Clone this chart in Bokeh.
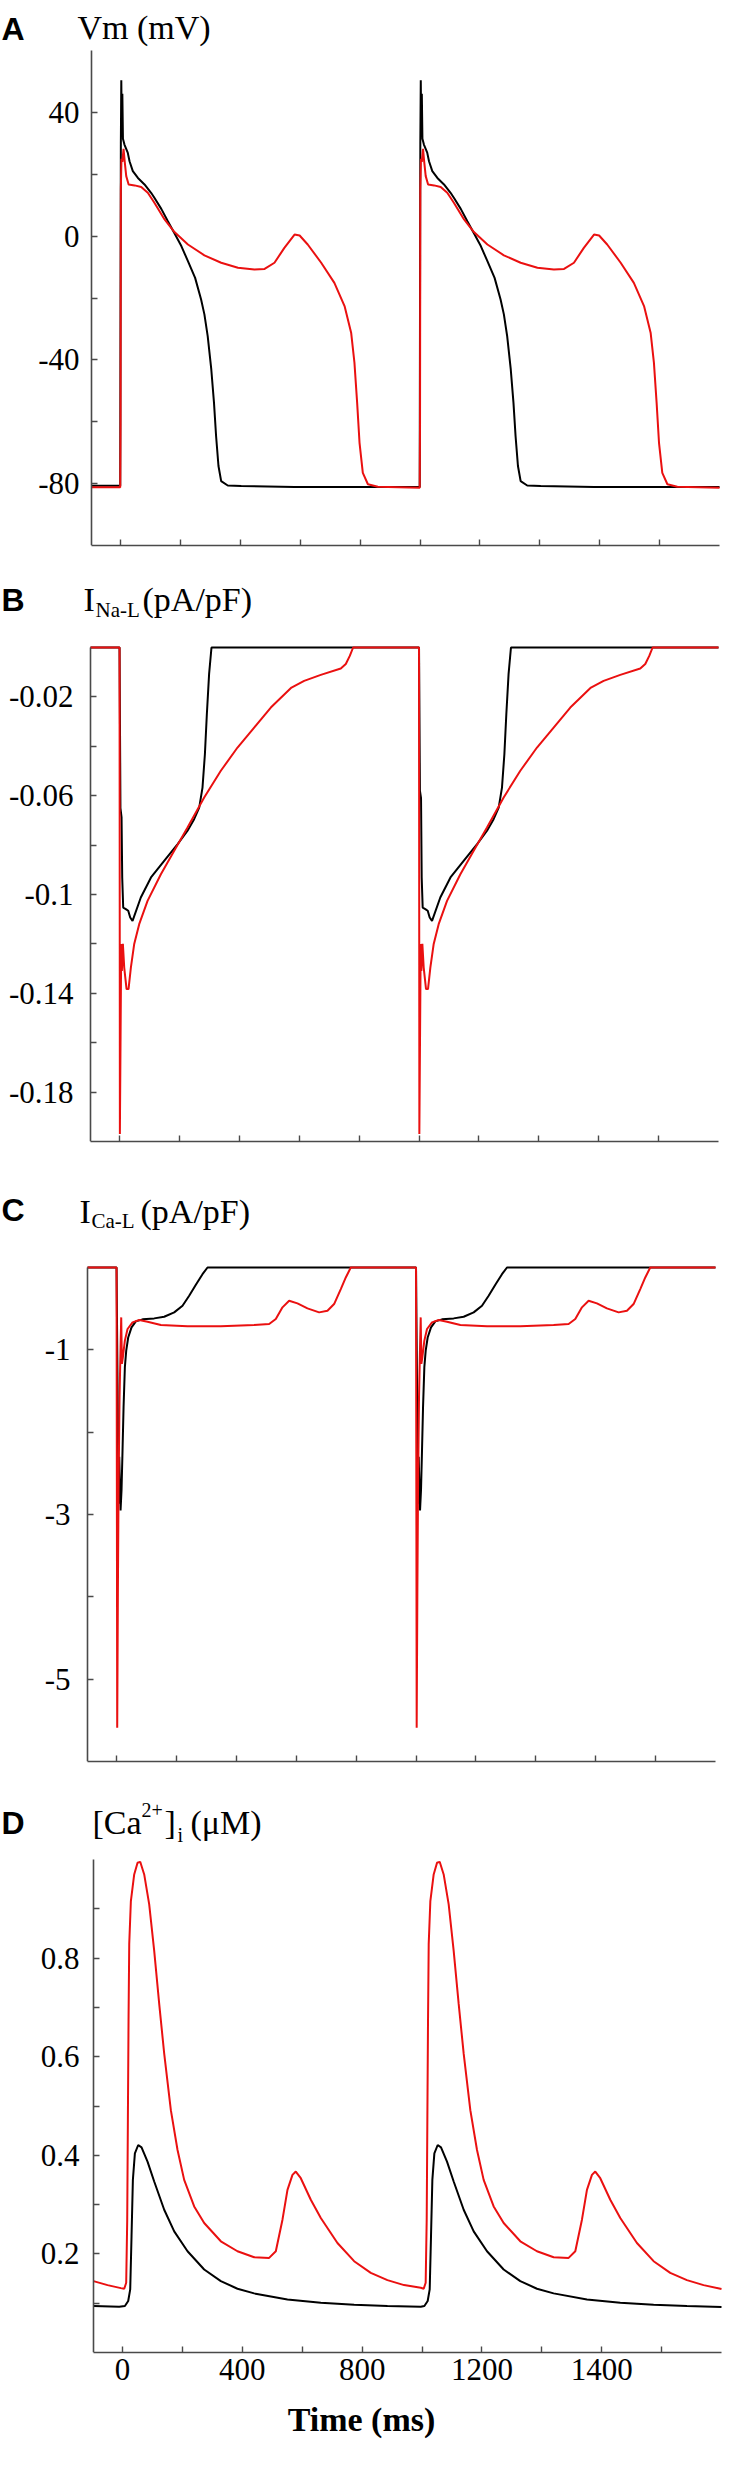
from bokeh.plotting import figure
from bokeh.models import FixedTicker, Range1d
from bokeh.layouts import column
from bokeh.core.properties import value
from bokeh.embed import file_html
from bokeh.resources import INLINE

# ---------------- data ----------------
X_TICKS = [0, 200, 400, 600, 800, 1000, 1200, 1400, 1600, 1800]
X_TICK_LABELS = {0: "0", 400: "400", 800: "800", 1200: "1200", 1600: "1400"}

# Panel A: Vm (mV)
VM_TICKS = [-80, -60, -40, -20, 0, 20, 40]
VM_TICK_LABELS = {-80: "-80", -40: "-40", 0: "0", 40: "40"}
vm_ctrl_t1 = [-97, -1, 0, 1, 2.5, 4, 6, 8, 13, 24, 30, 41, 58, 80, 102, 113, 136, 158, 180, 203,
              225, 249, 269, 280, 291, 303, 312, 319, 327, 336, 358, 403, 581, 870, 999]
vm_ctrl_v1 = [-80.7, -80.7, -20, 30, 50.4, 35, 46, 31.5, 29.6, 27, 24.2, 21, 18.8, 16.7, 14, 12.4, 8.8, 4.8, 0.9, -3.2,
              -8.1, -13.5, -20.5, -25.3, -32.3, -43.1, -53.8, -64.6, -74.3, -79.2, -80.6, -80.8, -81.1, -81.1, -81.1]
vm_ctrl_t2 = [1000, 1001, 1002.5, 1004, 1006, 1008, 1013, 1024, 1030, 1041, 1058, 1080, 1102, 1113, 1136, 1158, 1180,
              1203, 1225, 1249, 1269, 1280, 1291, 1303, 1312, 1319, 1327, 1336, 1358, 1403, 1581, 1870, 2000]
vm_ctrl_v2 = [-20, 30, 50.4, 35, 46, 31.5, 29.6, 27, 24.2, 21, 18.8, 16.7, 14, 12.4, 8.8, 4.8, 0.9,
              -3.2, -8.1, -13.5, -20.5, -25.3, -32.3, -43.1, -53.8, -64.6, -74.3, -79.2, -80.6, -80.8, -81.1, -81.1, -81.1]
vm_drug_t1 = [-97, -1, 0, 1, 3, 6, 10, 14, 19, 27, 47, 69, 91, 113, 147, 180, 225, 280, 336, 392, 447, 481, 514,
              547, 581, 598, 625, 670, 714, 748, 770, 781, 790, 798, 809, 826, 859, 999]
vm_drug_v1 = [-81.2, -81.2, -61, 15, 25, 24, 28.2, 24, 19.4, 16.7, 16.4, 15.9, 14, 10.8, 5.4, 1.3, -2.7, -6.2, -8.6,
              -10.2, -10.8, -10.6, -8.6, -3.8, 0.5, 0.2, -2.7, -8.6, -15.1, -22.6, -31.2, -40.9, -53.8, -66.8, -76.5,
              -80.2, -81, -81.3]
vm_drug_t2 = [1000, 1001, 1003, 1006, 1010, 1014, 1019, 1027, 1047, 1069, 1091, 1113, 1147, 1180, 1225, 1280, 1336,
              1392, 1447, 1481, 1514, 1547, 1581, 1598, 1625, 1670, 1714, 1748, 1770, 1781, 1790, 1798, 1809, 1826,
              1859, 2000]
vm_drug_v2 = [-61, 15, 25, 24, 28.2, 24, 19.4, 16.7, 16.4, 15.9, 14, 10.8, 5.4, 1.3, -2.7, -6.2, -8.6, -10.2, -10.8,
              -10.6, -8.6, -3.8, 0.5, 0.2, -2.7, -8.6, -15.1, -22.6, -31.2, -40.9, -53.8, -66.8, -76.5, -80.2, -81,
              -81.3]

# Panel B: I_Na-L (pA/pF)
NAL_TICKS = [-0.18, -0.16, -0.14, -0.12, -0.1, -0.08, -0.06, -0.04, -0.02]
NAL_TICK_LABELS = {-0.18: "-0.18", -0.14: "-0.14", -0.1: "-0.1", -0.06: "-0.06", -0.02: "-0.02"}
nal_ctrl_t1 = [-97, 0, 3, 6.7, 8.9, 12.2, 21, 29, 35.6, 43.4, 71, 105, 149, 194, 227, 249, 266, 277, 285, 291.5,
               299, 307, 999]
nal_ctrl_v1 = [0, 0, -0.065, -0.0688, -0.0931, -0.1053, -0.1059, -0.1066, -0.1093, -0.1107, -0.1012, -0.0931,
               -0.0864, -0.0796, -0.0742, -0.0695, -0.0648, -0.0567, -0.0432, -0.027, -0.0108, 0, 0]
nal_ctrl_t2 = [1000, 1003, 1006.7, 1008.9, 1012.2, 1021, 1029, 1035.6, 1043.4, 1071, 1105, 1149, 1194, 1227, 1249,
               1266, 1277, 1285, 1291.5, 1299, 1307, 2000]
nal_ctrl_v2 = [0, -0.058, -0.061, -0.0931, -0.1053, -0.1059, -0.1066, -0.1093, -0.1107, -0.1012, -0.0931, -0.0864,
               -0.0796, -0.0742, -0.0695, -0.0648, -0.0567, -0.0432, -0.027, -0.0108, 0, 0]
nal_drug_t1 = [-97, 0, 1.1, 3.3, 5.6, 7.8, 11.1, 15.6, 23.4, 30, 37.8, 49, 65.6, 93.5, 138, 182.5, 227, 282.6, 338.2,
               393.9, 449.5, 505.1, 574.1, 616.4, 672, 738.8, 755.5, 768.8, 780, 999]
nal_drug_v1 = [0, 0, -0.197, -0.159, -0.12, -0.131, -0.12, -0.1296, -0.1383, -0.1383, -0.1296, -0.12, -0.112,
               -0.1026, -0.0918, -0.0823, -0.0729, -0.0607, -0.0499, -0.0405, -0.0324, -0.0243, -0.0162, -0.0135,
               -0.0111, -0.0085, -0.0067, -0.0034, 0, 0]
nal_drug_t2 = [1000, 1001.1, 1003.3, 1005.6, 1007.8, 1011.1, 1015.6, 1023.4, 1030, 1037.8, 1049, 1065.6, 1093.5, 1138,
               1182.5, 1227, 1282.6, 1338.2, 1393.9, 1449.5, 1505.1, 1574.1, 1616.4, 1672, 1738.8, 1755.5, 1768.8,
               1780, 2000]
nal_drug_v2 = [0, -0.197, -0.159, -0.12, -0.131, -0.12, -0.1296, -0.1383, -0.1383, -0.1296, -0.12, -0.112, -0.1026,
               -0.0918, -0.0823, -0.0729, -0.0607, -0.0499, -0.0405, -0.0324, -0.0243, -0.0162, -0.0135, -0.0111,
               -0.0085, -0.0067, -0.0034, 0, 0]

# Panel C: I_Ca-L (pA/pF)
CAL_TICKS = [-5, -4, -3, -2, -1]
CAL_TICK_LABELS = {-5: "-5", -3: "-3", -1: "-1"}
cal_ctrl_t1 = [-97, 0, 3.3, 6.7, 8.9, 13.4, 16.7, 20, 23.4, 27.8, 32.3, 38.9, 50, 64.5, 86.8, 125.7, 159.1, 192.5,
               220.3, 242.5, 264.8, 287, 303.7, 999]
cal_ctrl_v1 = [0, 0, -1.41, -2.87, -2.3, -2.95, -2.7, -2.22, -1.7, -1.21, -1.01, -0.85, -0.727, -0.654, -0.63,
               -0.618, -0.598, -0.545, -0.464, -0.343, -0.21, -0.081, 0, 0]
cal_ctrl_t2 = [1000, 1003.3, 1006.7, 1008.9, 1013.4, 1016.7, 1020, 1023.4, 1027.8, 1032.3, 1038.9, 1050, 1064.5,
               1086.8, 1125.7, 1159.1, 1192.5, 1220.3, 1242.5, 1264.8, 1287, 1303.7, 2000]
cal_ctrl_v2 = [0, -1.41, -2.87, -2.3, -2.95, -2.7, -2.22, -1.7, -1.21, -1.01, -0.85, -0.727, -0.654, -0.63, -0.618,
               -0.598, -0.545, -0.464, -0.343, -0.21, -0.081, 0, 0]
cal_drug_t1 = [-97, 0, 2.2, 4.5, 6.7, 10, 13.4, 15.6, 17.8, 21.1, 27.8, 36.7, 53.4, 75.7, 103.5, 148, 237, 348.2,
               459.5, 509.6, 531.8, 554.1, 576.3, 604.1, 637.5, 676.5, 704.3, 726.5, 748.8, 765.5, 782.2, 999]
cal_drug_v1 = [0, 0, -5.59, -3.92, -2.7, -1.57, -0.97, -0.606, -1.17, -1.09, -0.888, -0.747, -0.666, -0.638, -0.658,
               -0.698, -0.715, -0.715, -0.698, -0.686, -0.626, -0.484, -0.404, -0.436, -0.497, -0.545, -0.525,
               -0.444, -0.262, -0.121, 0, 0]
cal_drug_t2 = [1000, 1002.2, 1004.5, 1006.7, 1010, 1013.4, 1015.6, 1017.8, 1021.1, 1027.8, 1036.7, 1053.4, 1075.7,
               1103.5, 1148, 1237, 1348.2, 1459.5, 1509.6, 1531.8, 1554.1, 1576.3, 1604.1, 1637.5, 1676.5, 1704.3,
               1726.5, 1748.8, 1765.5, 1782.2, 2000]
cal_drug_v2 = [0, -5.59, -3.92, -2.7, -1.57, -0.97, -0.606, -1.17, -1.09, -0.888, -0.747, -0.666, -0.638, -0.658,
               -0.698, -0.715, -0.715, -0.698, -0.686, -0.626, -0.484, -0.404, -0.436, -0.497, -0.545, -0.525,
               -0.444, -0.262, -0.121, 0, 0]

# Panel D: [Ca2+]i (uM)
CA_TICKS = [0.1, 0.2, 0.3, 0.4, 0.5, 0.6, 0.7, 0.8, 0.9]
CA_TICK_LABELS = {0.2: "0.2", 0.4: "0.4", 0.6: "0.6", 0.8: "0.8"}
ca_ctrl_t1 = [-97, -11.1, 7.8, 18.9, 25.6, 30, 34.5, 41.2, 52.3, 63.4, 83.4, 105.7, 139.1, 172.5, 217, 272.6, 328.2,
              383.8, 439.5, 550.7, 662, 773.3, 884.5, 995.8]
ca_ctrl_v1 = [0.0943, 0.0929, 0.0943, 0.1044, 0.1279, 0.2357, 0.3502, 0.404, 0.4209, 0.4162, 0.3872, 0.3468, 0.2896,
              0.2458, 0.2054, 0.1684, 0.1448, 0.1293, 0.1199, 0.1077, 0.101, 0.097, 0.0943, 0.0929]
ca_ctrl_t2 = [1007.8, 1018.9, 1025.6, 1030, 1034.5, 1041.2, 1052.3, 1063.4, 1083.4, 1105.7, 1139.1, 1172.5, 1217,
              1272.6, 1328.2, 1383.8, 1439.5, 1550.7, 1662, 1773.3, 1884.5, 2000]
ca_ctrl_v2 = [0.0943, 0.1044, 0.1279, 0.2357, 0.3502, 0.404, 0.4209, 0.4162, 0.3872, 0.3468, 0.2896, 0.2458, 0.2054,
              0.1684, 0.1448, 0.1293, 0.1199, 0.1077, 0.101, 0.097, 0.0943, 0.0923]
ca_drug_t1 = [-97, -50, -5.6, 5.6, 12.2, 15.6, 17.8, 20, 22.3, 27.8, 38.9, 50.1, 59, 72.3, 89, 105.7, 122.4, 139.1,
              161.3, 183.6, 205.8, 239.2, 272.6, 328.2, 383.8, 439.5, 489.5, 511.8, 534, 550.7, 567.4, 578.5, 595.2,
              628.6, 662, 717.6, 773.3, 828.9, 884.5, 940.1, 995.8]
ca_drug_v1 = [0.1448, 0.1367, 0.1306, 0.1293, 0.1414, 0.2694, 0.4714, 0.6734, 0.8283, 0.9158, 0.9697, 0.9933, 0.9953,
              0.9697, 0.9091, 0.8148, 0.7071, 0.6061, 0.4916, 0.4108, 0.3502, 0.2963, 0.2626, 0.2256, 0.2054, 0.1933,
              0.1919, 0.2054, 0.2694, 0.33, 0.3603, 0.367, 0.3535, 0.3098, 0.2727, 0.2222, 0.1852, 0.1616, 0.1468,
              0.1367, 0.1313]
ca_drug_t2 = [1005.6, 1012.2, 1015.6, 1017.8, 1020, 1022.3, 1027.8, 1038.9, 1050.1, 1059, 1072.3, 1089, 1105.7,
              1122.4, 1139.1, 1161.3, 1183.6, 1205.8, 1239.2, 1272.6, 1328.2, 1383.8, 1439.5, 1489.5, 1511.8, 1534,
              1550.7, 1567.4, 1578.5, 1595.2, 1628.6, 1662, 1717.6, 1773.3, 1828.9, 1884.5, 1940.1, 2000]
ca_drug_v2 = [0.1293, 0.1414, 0.2694, 0.4714, 0.6734, 0.8283, 0.9158, 0.9697, 0.9933, 0.9953, 0.9697, 0.9091, 0.8148,
              0.7071, 0.6061, 0.4916, 0.4108, 0.3502, 0.2963, 0.2626, 0.2256, 0.2054, 0.1933, 0.1919, 0.2054, 0.2694,
              0.33, 0.3603, 0.367, 0.3535, 0.3098, 0.2727, 0.2222, 0.1852, 0.1616, 0.1468, 0.1367, 0.129]

# Panel headings: letter and pieces (text, font px, page x, page baseline y)
HEAD_A = ("A", 36, [("Vm (mV)", 34, 85, 35)])
HEAD_B = ("B", 607, [("I", 34, 91, 607), ("Na-L", 21, 103, 617), ("(pA/pF)", 34, 150, 607)])
HEAD_C = ("C", 1217, [("I", 34, 87, 1219), ("Ca-L", 21, 99, 1228), ("(pA/pF)", 34, 148, 1219)])
HEAD_D = ("D", 1830, [("[Ca", 34, 100, 1830), ("2+", 20, 149, 1817), ("]", 34, 172, 1830),
                      ("i", 20, 185, 1842), ("(\u03bcM)", 34, 198, 1830)])

# ---------------- styling / layout ----------------
RED = "#ea1010"
BLACK = "#000000"
AXIS = "#4a4a4a"
SERIF = "Liberation Serif"
SANS = "Liberation Sans"
T0, T1 = -97, 2000          # time span covered by the axis
AXIS_LEN = 628              # px length of the time axis
K = AXIS_LEN / (T1 - T0)    # px per ms
PAGE_L, PAGE_R = 8, 730     # page x of each figure's left/right edge


def panel(fig_top, fig_bottom, axis_y, plot_top, axis_x, y0, y1, y_ticks, y_labels, y_standoff, head, last=False):
    height = fig_bottom - fig_top
    frame_h = axis_y - fig_top
    m = (axis_y - plot_top) / (y1 - y0)
    x_start = T0 - (axis_x - PAGE_L) / K
    x_end = T0 + (PAGE_R - axis_x) / K
    y_end = y0 + frame_h / m
    p = figure(width=PAGE_R - PAGE_L, height=height,
               x_range=Range1d(x_start, x_end), y_range=Range1d(y0, y_end),
               output_backend="svg", toolbar_location=None,
               min_border_left=0, min_border_right=0, min_border_top=0,
               min_border_bottom=fig_bottom - axis_y)
    p.outline_line_color = None
    p.xgrid.visible = False
    p.ygrid.visible = False
    p.background_fill_color = "white"
    p.border_fill_color = "white"
    for ax in (p.xaxis[0], p.yaxis[0]):
        ax.axis_line_color = AXIS
        ax.axis_line_width = 1.6
        ax.major_tick_line_color = AXIS
        ax.major_tick_line_width = 1.4
        ax.major_tick_in = 6
        ax.major_tick_out = 0
        ax.minor_tick_line_color = None
        ax.major_label_text_font = SERIF
        ax.major_label_text_color = "black"
    ya = p.yaxis[0]
    ya.fixed_location = T0
    ya.bounds = (y0, y1)
    ya.ticker = FixedTicker(ticks=y_ticks)
    ya.major_label_overrides = {t: y_labels.get(t, "") for t in y_ticks}
    ya.major_label_text_font_size = "31px"
    ya.major_label_standoff = y_standoff
    xa = p.xaxis[0]
    xa.bounds = (T0, T1)
    xa.ticker = FixedTicker(ticks=X_TICKS)
    if last:
        xa.major_label_overrides = {t: X_TICK_LABELS.get(t, "") for t in X_TICKS}
        xa.major_label_text_font_size = "31px"
        xa.major_label_standoff = 6
        xa.axis_label = "Time (ms)"
        xa.axis_label_text_font = SERIF
        xa.axis_label_text_font_size = "34px"
        xa.axis_label_text_font_style = "bold"
        xa.axis_label_text_color = "black"
        xa.axis_label_standoff = 18
    else:
        xa.major_label_overrides = {t: "" for t in X_TICKS}
        xa.major_label_text_font_size = "1px"
        xa.major_label_standoff = 0

    # heading: page pixel positions -> this panel's data coordinates
    def dx(px):
        return x_start + (px - PAGE_L) / K

    def dy(py):
        return y0 + (axis_y - py) / m

    letter, base, parts = head
    p.text(x=[dx(PAGE_L + 1)], y=[dy(base)], text=[letter], text_font=value(SANS),
           text_font_size=value("32px"), text_font_style="bold", text_color="black",
           text_baseline="alphabetic", text_align="left")
    for s, size, px, py in parts:
        p.text(x=[dx(px)], y=[dy(py)], text=[s], text_font=value(SERIF), text_font_size=value(f"{size}px"),
               text_color="black", text_baseline="alphabetic", text_align="left")
    return p


pA = panel(8, 575, 553, 58, 99, -100, 60, VM_TICKS, VM_TICK_LABELS, 12, HEAD_A)
pA.line(vm_ctrl_t1 + vm_ctrl_t2, vm_ctrl_v1 + vm_ctrl_v2, line_color=BLACK, line_width=2)
pA.line(vm_drug_t1 + vm_drug_t2, vm_drug_v1 + vm_drug_v2, line_color=RED, line_width=2)

pB = panel(575, 1180, 1149, 655, 98, -0.2, 0, NAL_TICKS, NAL_TICK_LABELS, 17, HEAD_B)
pB.line(nal_ctrl_t1 + nal_ctrl_t2, nal_ctrl_v1 + nal_ctrl_v2, line_color=BLACK, line_width=2)
pB.line(nal_drug_t1 + nal_drug_t2, nal_drug_v1 + nal_drug_v2, line_color=RED, line_width=2)

pC = panel(1180, 1795, 1769, 1275, 95, -6, 0, CAL_TICKS, CAL_TICK_LABELS, 17, HEAD_C)
pC.line(cal_ctrl_t1 + cal_ctrl_t2, cal_ctrl_v1 + cal_ctrl_v2, line_color=BLACK, line_width=2)
pC.line(cal_drug_t1 + cal_drug_t2, cal_drug_v1 + cal_drug_v2, line_color=RED, line_width=2)

pD = panel(1795, 2465, 2360, 1867, 101, 0, 1.0, CA_TICKS, CA_TICK_LABELS, 14, HEAD_D, last=True)
pD.line(ca_ctrl_t1 + ca_ctrl_t2, ca_ctrl_v1 + ca_ctrl_v2, line_color=BLACK, line_width=2)
pD.line(ca_drug_t1 + ca_drug_t2, ca_drug_v1 + ca_drug_v2, line_color=RED, line_width=2)

layout = column(pA, pB, pC, pD, spacing=0)
open("out.html", "w").write(file_html(layout, INLINE))
